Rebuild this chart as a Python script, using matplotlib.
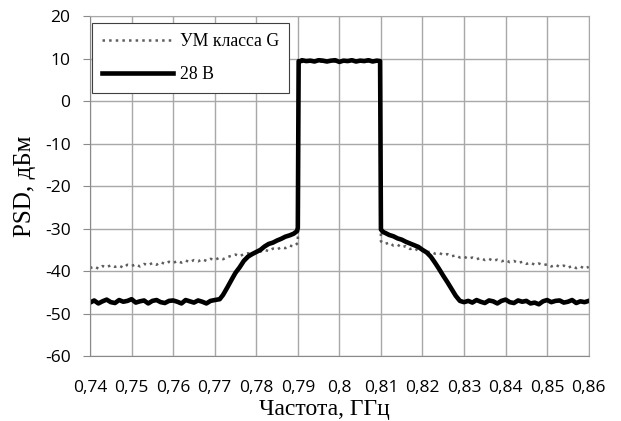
import numpy as np
import matplotlib.pyplot as plt

plt.rcParams['axes.unicode_minus'] = False

# ---- 28 В ----
f_28 = [0.740, 0.741, 0.742, 0.743, 0.744, 0.745, 0.746, 0.747, 0.748, 0.749,
        0.750, 0.751, 0.752, 0.753, 0.754, 0.755, 0.756, 0.757, 0.758, 0.759,
        0.760, 0.761, 0.762, 0.763, 0.764, 0.765, 0.766, 0.767, 0.768, 0.769, 0.770,
        0.7712, 0.772, 0.773, 0.7743, 0.775, 0.776, 0.777, 0.778, 0.779, 0.780,
        0.781, 0.782, 0.783, 0.784, 0.785, 0.786, 0.787, 0.788, 0.789, 0.7898, 0.7900,
        0.7902, 0.7905, 0.791, 0.792, 0.793, 0.794, 0.795, 0.796, 0.797, 0.798, 0.799,
        0.800, 0.801, 0.802, 0.803, 0.804, 0.805, 0.806, 0.807, 0.808, 0.809, 0.8098,
        0.8100, 0.8105, 0.811, 0.812, 0.813, 0.814, 0.815, 0.816, 0.817, 0.818, 0.819,
        0.820, 0.821, 0.822, 0.823, 0.824, 0.825, 0.826, 0.827, 0.828, 0.829, 0.830,
        0.831, 0.832, 0.833, 0.834, 0.835, 0.836, 0.837, 0.838, 0.839, 0.840,
        0.841, 0.842, 0.843, 0.844, 0.845, 0.846, 0.847, 0.848, 0.849, 0.850,
        0.851, 0.852, 0.853, 0.854, 0.855, 0.856, 0.857, 0.858, 0.859, 0.860]
p_28 = [-47.4, -46.9, -47.6, -47.1, -46.7, -47.3, -47.5, -46.8, -47.2, -47.0,
        -46.6, -47.4, -47.1, -46.9, -47.6, -47.0, -46.8, -47.3, -47.5, -47.0,
        -46.9, -47.2, -47.6, -46.8, -47.1, -47.4, -46.9, -47.2, -47.6, -47.0, -46.8,
        -46.6, -45.6, -43.9, -41.6, -40.4, -39.1, -37.6, -36.6, -36.0, -35.5,
        -35.0, -34.2, -33.6, -33.3, -32.8, -32.4, -31.9, -31.6, -31.2, -30.6, -29.8,
        9.4, 9.3, 9.6, 9.4, 9.5, 9.3, 9.6, 9.5, 9.3, 9.5, 9.6,
        9.2, 9.5, 9.4, 9.6, 9.3, 9.5, 9.4, 9.6, 9.3, 9.5, 9.4,
        -30.2, -30.8, -31.0, -31.5, -31.8, -32.3, -32.6, -33.1, -33.5, -33.9, -34.3,
        -35.0, -35.6, -36.6, -38.0, -39.5, -41.1, -42.6, -44.2, -45.8, -47.0, -47.3,
        -47.0, -47.4, -46.8, -47.2, -47.5, -46.9, -47.1, -47.6, -47.0, -46.7,
        -47.3, -47.5, -46.9, -47.2, -47.0, -47.6, -47.4, -47.8, -47.1, -46.8,
        -47.3, -47.0, -46.9, -47.4, -47.2, -46.8, -47.5, -47.1, -47.3, -47.0]

# ---- УМ класса G ----
f_g = [0.740, 0.741, 0.742, 0.743, 0.744, 0.745, 0.746, 0.747, 0.748, 0.749,
       0.750, 0.751, 0.752, 0.753, 0.754, 0.755, 0.756, 0.757, 0.758, 0.759,
       0.760, 0.761, 0.762, 0.763, 0.764, 0.765, 0.766, 0.767, 0.768, 0.769,
       0.770, 0.771, 0.772, 0.773, 0.774, 0.775, 0.776, 0.777, 0.778, 0.779,
       0.780, 0.781, 0.782, 0.783, 0.784, 0.785, 0.786, 0.787, 0.788, 0.789, 0.790,
       0.7902, 0.800, 0.8098,
       0.810, 0.811, 0.812, 0.813, 0.814, 0.815, 0.816, 0.817, 0.818, 0.819,
       0.820, 0.821, 0.822, 0.823, 0.824, 0.825, 0.826, 0.827, 0.828, 0.829,
       0.830, 0.831, 0.832, 0.833, 0.834, 0.835, 0.836, 0.837, 0.838, 0.839,
       0.840, 0.841, 0.842, 0.843, 0.844, 0.845, 0.846, 0.847, 0.848, 0.849,
       0.850, 0.851, 0.852, 0.853, 0.854, 0.855, 0.856, 0.857, 0.858, 0.859, 0.860]
p_g = [-39.3, -38.9, -39.4, -38.8, -39.1, -38.6, -39.0, -38.7, -39.2, -38.5,
       -38.8, -38.4, -38.9, -38.3, -38.6, -38.1, -38.5, -37.9, -38.3, -37.8,
       -38.1, -37.6, -38.0, -37.5, -37.9, -37.4, -37.7, -37.2, -37.6, -37.1,
       -37.4, -36.9, -37.2, -36.7, -36.4, -36.1, -36.5, -36.0, -35.8, -36.1,
       -35.6, -35.4, -35.0, -35.3, -34.7, -34.9, -34.4, -34.6, -34.0, -34.2, -33.4,
       9.2, 9.3, 9.3,
       -33.0, -33.6, -33.3, -34.0, -33.8, -34.4, -34.1, -34.8, -34.6, -35.2,
       -35.0, -35.6, -35.4, -35.9, -35.7, -36.2, -36.0, -36.5, -36.3, -36.8,
       -36.6, -37.1, -36.8, -37.2, -36.9, -37.4, -37.1, -37.6, -37.3, -37.7,
       -37.4, -37.9, -37.6, -38.1, -37.8, -38.3, -38.0, -38.5, -38.2, -38.6,
       -38.4, -38.9, -38.5, -39.0, -38.7, -39.2, -38.8, -39.3, -38.9, -39.4, -39.0]

x_ticks = [0.74, 0.75, 0.76, 0.77, 0.78, 0.79, 0.80, 0.81, 0.82, 0.83, 0.84, 0.85, 0.86]
x_labels = ['0,74', '0,75', '0,76', '0,77', '0,78', '0,79', '0,8', '0,81', '0,82',
            '0,83', '0,84', '0,85', '0,86']
y_ticks = [-60, -50, -40, -30, -20, -10, 0, 10, 20]

fig = plt.figure(figsize=(6.21, 4.21), dpi=100)
ax = fig.add_axes([0.145, 0.154, 0.803, 0.808])

ax.plot(f_g, p_g, color='#5e5e5e', lw=1.8, ls=':', label='УМ класса G')
ax.plot(f_28, p_28, color='black', lw=3.3, label='28 В')

ax.set_xlim(0.74, 0.86)
ax.set_ylim(-60, 20)
ax.set_xticks(x_ticks)
ax.set_xticklabels(x_labels)
ax.set_yticks(y_ticks)
ax.grid(True, color='#a8a8a8', lw=1.0)
ax.set_axisbelow(True)
for s in ax.spines.values():
    s.set_color('#a8a8a8')
ax.spines['left'].set_color('#8a8a8a')
ax.spines['bottom'].set_color('#8a8a8a')
ax.tick_params(colors='#8a8a8a', labelcolor='black', labelsize=12.5)
ax.tick_params(axis='x', length=0, pad=17)
ax.tick_params(axis='y', length=5, pad=9)
for lab in ax.get_xticklabels() + ax.get_yticklabels():
    lab.set_family('Open Sans')

ax.set_xlabel('Частота, ГГц', family='Liberation Serif', fontsize=17)
ax.set_ylabel('PSD, дБм', family='Liberation Serif', fontsize=18)
ax.xaxis.set_label_coords(0.47, -0.125)
ax.yaxis.set_label_coords(-0.108, 0.5)

leg = ax.legend(loc='upper left', bbox_to_anchor=(0.004, 0.978), fancybox=False,
                edgecolor='#404040', framealpha=1,
                prop={'family': 'Liberation Serif', 'size': 12.8},
                handlelength=4.0, handletextpad=0.4, borderpad=0.55,
                labelspacing=0.9, borderaxespad=0)
leg.get_frame().set_linewidth(0.8)

fig.savefig('out.png', dpi=100)
